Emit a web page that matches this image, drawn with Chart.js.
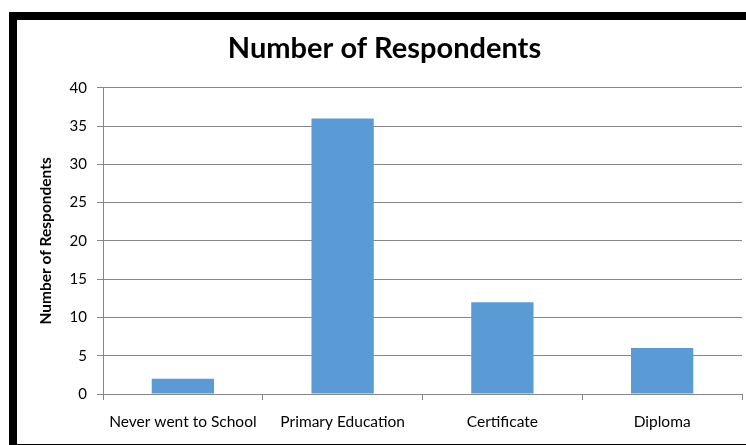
<!DOCTYPE html>
<html>
<head>
<meta charset="utf-8">
<script src="https://cdn.jsdelivr.net/npm/chart.js@4"></script>
<style>
    html, body { margin: 0; padding: 0; background: #fff; }
    body { width: 746px; height: 445px; position: relative; overflow: hidden; }
    #frame {
        position: absolute;
        left: 9px; top: 12px;
        width: 760px; height: 424px;
        border-top: 8px solid #000;
        border-left: 8px solid #000;
        border-bottom: 1px solid #000;
    }
    #wrap { position: absolute; left: 17px; top: 20px; width: 729px; height: 423px; }
</style>
</head>
<body>
<div id="frame"></div>
<div id="wrap"><canvas id="chartCanvas"></canvas></div>
<script>
// Respondents by level of education
const categories = ["Never went to School", "Primary Education", "Certificate", "Diploma"];
const respondents = [2, 36, 12, 6];
const yTicks = [0, 5, 10, 15, 20, 25, 30, 35, 40];

const FONT = "Lato, 'Liberation Sans', sans-serif";
const GRID = "#868686";

function drawChart() {
    const ctx = document.getElementById("chartCanvas").getContext("2d");

    new Chart(ctx, {
        type: "bar",
        data: {
            labels: categories,
            datasets: [
                {
                    label: "Number of Respondents",
                    data: respondents,
                    backgroundColor: "#5B9BD5",
                    borderWidth: 0,
                    categoryPercentage: 1,
                    barPercentage: 0.39
                }
            ]
        },
        options: {
            responsive: true,
            maintainAspectRatio: false,
            animation: false,
            layout: { padding: { left: 10, right: 4, top: 0, bottom: 0 } },
            plugins: {
                legend: { display: false },
                tooltip: { enabled: false },
                title: {
                    display: true,
                    text: "Number of Respondents",
                    color: "#000",
                    font: { family: FONT, size: 29, weight: "bold" },
                    padding: { top: 11, bottom: 22 }
                }
            },
            scales: {
                x: {
                    grid: {
                        display: true,
                        offset: true,
                        drawOnChartArea: false,
                        drawTicks: true,
                        tickLength: 6,
                        color: GRID
                    },
                    border: { color: GRID },
                    ticks: {
                        color: "#000",
                        padding: 13,
                        maxRotation: 0,
                        autoSkip: false,
                        font: { family: FONT, size: 15.5 }
                    },
                    afterFit: scale => { scale.height = 49; }
                },
                y: {
                    min: 0,
                    max: 40,
                    afterBuildTicks: scale => {
                        scale.ticks = yTicks.map(v => ({ value: v }));
                    },
                    grid: {
                        color: GRID,
                        drawTicks: true,
                        tickLength: 6
                    },
                    border: { color: GRID },
                    ticks: {
                        color: "#000",
                        padding: 10,
                        font: { family: FONT, size: 15 }
                    },
                    title: {
                        display: true,
                        text: "Number of Respondents",
                        color: "#000",
                        font: { family: FONT, size: 15.5, weight: "bold" },
                        padding: { top: 10, bottom: 0 }
                    },
                    afterFit: scale => { scale.width = 76; }
                }
            }
        }
    });
}

drawChart();
</script>
</body>
</html>
